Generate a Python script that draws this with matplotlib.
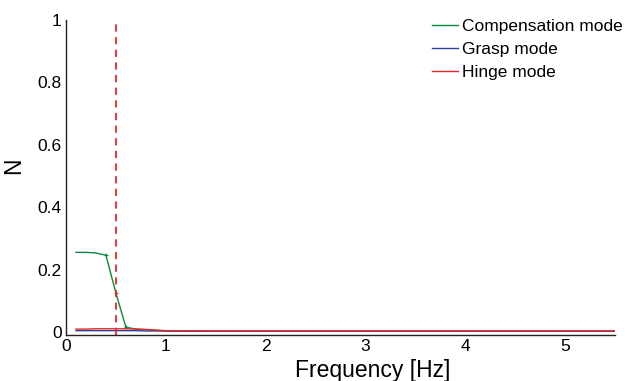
import matplotlib.pyplot as plt

plt.rcParams['font.family'] = ['Liberation Sans', 'DejaVu Sans']

freq = [0.1, 0.2, 0.3, 0.4, 0.5, 0.6, 0.7, 0.8, 0.9, 1.0, 1.5, 2.0, 2.5, 3.0, 3.5, 4.0, 4.5, 5.0, 5.5]
compensation = [0.255, 0.255, 0.253, 0.246, 0.125, 0.015, 0.009, 0.007, 0.005, 0.003,
                 0.002, 0.002, 0.002, 0.002, 0.002, 0.002, 0.002, 0.002, 0.002]
grasp = [0.004, 0.004, 0.004, 0.004, 0.004, 0.004, 0.004, 0.003, 0.003, 0.003,
         0.002, 0.002, 0.002, 0.002, 0.002, 0.002, 0.002, 0.002, 0.002]
hinge = [0.009, 0.009, 0.010, 0.010, 0.010, 0.010, 0.009, 0.008, 0.006, 0.004,
         0.003, 0.003, 0.003, 0.003, 0.003, 0.003, 0.003, 0.003, 0.003]
cutoff = 0.5

fig = plt.figure(figsize=(6.25, 3.81), dpi=100)
ax = fig.add_axes([0.1056, 0.1207, 0.878, 0.8268])

ax.plot(freq, compensation, color='#0a8a3a', lw=1.0, marker='+', ms=3, mew=0.8,
        markevery=[3, 4, 5], label='Compensation mode')
ax.plot(freq, grasp, color='#2a3f9a', lw=1.0, label='Grasp mode')
ax.plot(freq, hinge, color='#e8262a', lw=1.0, label='Hinge mode')
ax.axvline(cutoff, color='#e8262a', ls=(0, (4, 3)), lw=1.3)

ax.set_xlim(0, 5.5)
ax.set_ylim(-0.01, 1)
ax.set_yticks([0, 0.2, 0.4, 0.6, 0.8, 1])
ax.set_yticklabels(['0', '0.2', '0.4', '0.6', '0.8', '1'])
ax.set_xticks([0, 1, 2, 3, 4, 5])
ax.tick_params(length=0, labelsize=12.5, pad=3)
for s in ['top', 'right']:
    ax.spines[s].set_visible(False)
for s in ['left', 'bottom']:
    ax.spines[s].set_color('#222222')
    ax.spines[s].set_linewidth(1.0)

ax.set_xlabel('Frequency [Hz]', fontsize=16.5)
ax.xaxis.set_label_coords(0.558, -0.075, transform=ax.transAxes)
ax.xaxis.label.set_va('top')
ax.set_ylabel('N', fontsize=16.5)
ax.yaxis.set_label_coords(-0.075, 0.537, transform=ax.transAxes)

leg = fig.legend(loc='upper left', bbox_to_anchor=(0.691, 0.951), frameon=False, fontsize=12.5,
                 handlelength=1.5, handletextpad=0.25, labelspacing=0.45,
                 borderaxespad=0, borderpad=0)
for line in leg.get_lines():
    line.set_marker('')

fig.savefig('out.png', dpi=100)
